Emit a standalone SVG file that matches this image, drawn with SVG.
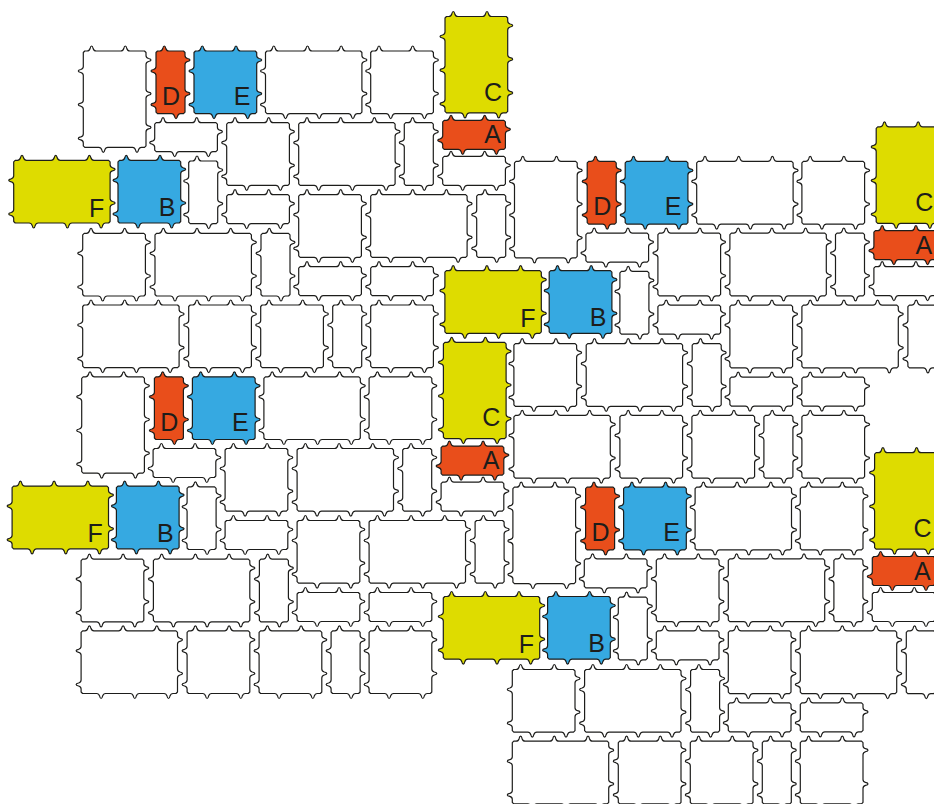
<svg xmlns="http://www.w3.org/2000/svg" width="934" height="804" viewBox="0 0 934 804">
<style>
.p{stroke:#1d1d1b;stroke-width:1.2;stroke-linejoin:round}
.w{fill:#fff}.r{fill:#e94e1b}.b{fill:#36a9e1}.y{fill:#dedc00}
text{font-family:"Liberation Sans",Arial,sans-serif;font-size:25px;fill:#1d1d1b;text-anchor:middle}
</style>
<defs>
<path id="s2963" d="M1.5 0H3.8q2.2 0 3 -2.5q.5 -2.5 1.5 -2.5q1 0 1.5 2.5q.8 2.5 3 2.5H27.5l1.5 1.5V4.5q0 2.2 2.5 3q2.5 .5 2.5 1.5q0 1 -2.5 1.5q-2.5 .8 -2.5 3V38.2q0 2.2 2.5 3q2.5 .5 2.5 1.5q0 1 -2.5 1.5q-2.5 .8 -2.5 3V61.2l-1.5 1.5H24.5q-2.2 0 -3 2.5q-.5 2.5 -1.5 2.5q-1 0 -1.5 -2.5q-.8 -2.5 -3 -2.5H1.5l-1.5 -1.5V58.2q0 -2.2 -2.5 -3q-2.5 -.5 -2.5 -1.5q0 -1 2.5 -1.5q2.5 -.8 2.5 -3V24.5q0 -2.2 -2.5 -3q-2.5 -.5 -2.5 -1.5q0 -1 2.5 -1.5q2.5 -.8 2.5 -3V1.5z"/>
<path id="s6329" d="M1.5 0H3.8q2.2 0 3 -2.5q.5 -2.5 1.5 -2.5q1 0 1.5 2.5q.8 2.5 3 2.5H37.5q2.2 0 3 -2.5q.5 -2.5 1.5 -2.5q1 0 1.5 2.5q.8 2.5 3 2.5H61.2l1.5 1.5V4.5q0 2.2 2.5 3q2.5 .5 2.5 1.5q0 1 -2.5 1.5q-2.5 .8 -2.5 3V27.5l-1.5 1.5H58.2q-2.2 0 -3 2.5q-.5 2.5 -1.5 2.5q-1 0 -1.5 -2.5q-.8 -2.5 -3 -2.5H24.5q-2.2 0 -3 2.5q-.5 2.5 -1.5 2.5q-1 0 -1.5 -2.5q-.8 -2.5 -3 -2.5H1.5l-1.5 -1.5V24.5q0 -2.2 -2.5 -3q-2.5 -.5 -2.5 -1.5q0 -1 2.5 -1.5q2.5 -.8 2.5 -3V1.5z"/>
<path id="s6363" d="M1.5 0H3.8q2.2 0 3 -2.5q.5 -2.5 1.5 -2.5q1 0 1.5 2.5q.8 2.5 3 2.5H37.5q2.2 0 3 -2.5q.5 -2.5 1.5 -2.5q1 0 1.5 2.5q.8 2.5 3 2.5H61.2l1.5 1.5V4.5q0 2.2 2.5 3q2.5 .5 2.5 1.5q0 1 -2.5 1.5q-2.5 .8 -2.5 3V38.2q0 2.2 2.5 3q2.5 .5 2.5 1.5q0 1 -2.5 1.5q-2.5 .8 -2.5 3V61.2l-1.5 1.5H58.2q-2.2 0 -3 2.5q-.5 2.5 -1.5 2.5q-1 0 -1.5 -2.5q-.8 -2.5 -3 -2.5H24.5q-2.2 0 -3 2.5q-.5 2.5 -1.5 2.5q-1 0 -1.5 -2.5q-.8 -2.5 -3 -2.5H1.5l-1.5 -1.5V58.2q0 -2.2 -2.5 -3q-2.5 -.5 -2.5 -1.5q0 -1 2.5 -1.5q2.5 -.8 2.5 -3V24.5q0 -2.2 -2.5 -3q-2.5 -.5 -2.5 -1.5q0 -1 2.5 -1.5q2.5 -.8 2.5 -3V1.5z"/>
<path id="s9663" d="M1.5 0H3.8q2.2 0 3 -2.5q.5 -2.5 1.5 -2.5q1 0 1.5 2.5q.8 2.5 3 2.5H37.5q2.2 0 3 -2.5q.5 -2.5 1.5 -2.5q1 0 1.5 2.5q.8 2.5 3 2.5H71.2q2.2 0 3 -2.5q.5 -2.5 1.5 -2.5q1 0 1.5 2.5q.8 2.5 3 2.5H94.9l1.5 1.5V4.5q0 2.2 2.5 3q2.5 .5 2.5 1.5q0 1 -2.5 1.5q-2.5 .8 -2.5 3V38.2q0 2.2 2.5 3q2.5 .5 2.5 1.5q0 1 -2.5 1.5q-2.5 .8 -2.5 3V61.2l-1.5 1.5H91.9q-2.2 0 -3 2.5q-.5 2.5 -1.5 2.5q-1 0 -1.5 -2.5q-.8 -2.5 -3 -2.5H58.2q-2.2 0 -3 2.5q-.5 2.5 -1.5 2.5q-1 0 -1.5 -2.5q-.8 -2.5 -3 -2.5H24.5q-2.2 0 -3 2.5q-.5 2.5 -1.5 2.5q-1 0 -1.5 -2.5q-.8 -2.5 -3 -2.5H1.5l-1.5 -1.5V58.2q0 -2.2 -2.5 -3q-2.5 -.5 -2.5 -1.5q0 -1 2.5 -1.5q2.5 -.8 2.5 -3V24.5q0 -2.2 -2.5 -3q-2.5 -.5 -2.5 -1.5q0 -1 2.5 -1.5q2.5 -.8 2.5 -3V1.5z"/>
<path id="s6396" d="M1.5 0H3.8q2.2 0 3 -2.5q.5 -2.5 1.5 -2.5q1 0 1.5 2.5q.8 2.5 3 2.5H37.5q2.2 0 3 -2.5q.5 -2.5 1.5 -2.5q1 0 1.5 2.5q.8 2.5 3 2.5H61.2l1.5 1.5V4.5q0 2.2 2.5 3q2.5 .5 2.5 1.5q0 1 -2.5 1.5q-2.5 .8 -2.5 3V38.2q0 2.2 2.5 3q2.5 .5 2.5 1.5q0 1 -2.5 1.5q-2.5 .8 -2.5 3V71.9q0 2.2 2.5 3q2.5 .5 2.5 1.5q0 1 -2.5 1.5q-2.5 .8 -2.5 3V94.9l-1.5 1.5H58.2q-2.2 0 -3 2.5q-.5 2.5 -1.5 2.5q-1 0 -1.5 -2.5q-.8 -2.5 -3 -2.5H24.5q-2.2 0 -3 2.5q-.5 2.5 -1.5 2.5q-1 0 -1.5 -2.5q-.8 -2.5 -3 -2.5H1.5l-1.5 -1.5V91.9q0 -2.2 -2.5 -3q-2.5 -.5 -2.5 -1.5q0 -1 2.5 -1.5q2.5 -.8 2.5 -3V58.2q0 -2.2 -2.5 -3q-2.5 -.5 -2.5 -1.5q0 -1 2.5 -1.5q2.5 -.8 2.5 -3V24.5q0 -2.2 -2.5 -3q-2.5 -.5 -2.5 -1.5q0 -1 2.5 -1.5q2.5 -.8 2.5 -3V1.5z"/>
</defs>
<g id="copy-1">
<g id="c1-p1" transform="translate(83.3 51)"><use href="#s6396" class="p w"/></g>
<g id="c1-D" transform="translate(156 51)"><use href="#s2963" class="p r"/><text x="15" y="54">D</text></g>
<g id="c1-E" transform="translate(194 51)"><use href="#s6363" class="p b"/><text x="48" y="54">E</text></g>
<g id="c1-p2" transform="translate(265.5 51)"><use href="#s9663" class="p w"/></g>
<g id="c1-p3" transform="translate(370.7 51)"><use href="#s6363" class="p w"/></g>
<g id="c1-C" transform="translate(445 16.5)"><use href="#s6396" class="p y"/><text x="48" y="84">C</text></g>
<g id="c1-A" transform="translate(442.7 120.3)"><use href="#s6329" class="p r"/><text x="50" y="23">A</text></g>
<g id="c1-p4" transform="translate(154.7 122.7)"><use href="#s6329" class="p w"/></g>
<g id="c1-p5" transform="translate(226.7 122.7)"><use href="#s6363" class="p w"/></g>
<g id="c1-p6" transform="translate(298.7 122.7)"><use href="#s9663" class="p w"/></g>
<g id="c1-p7" transform="translate(404.3 122.7)"><use href="#s2963" class="p w"/></g>
<g id="c1-p8" transform="translate(442.7 156.3)"><use href="#s6329" class="p w"/></g>
<g id="c1-F" transform="translate(13.7 160.3)"><use href="#s9663" class="p y"/><text x="83" y="56.4">F</text></g>
<g id="c1-B" transform="translate(118 160.3)"><use href="#s6363" class="p b"/><text x="49" y="55.7">B</text></g>
<g id="c1-p9" transform="translate(188.7 161)"><use href="#s2963" class="p w"/></g>
<g id="c1-p10" transform="translate(226.7 194.7)"><use href="#s6329" class="p w"/></g>
<g id="c1-p11" transform="translate(298.7 194.7)"><use href="#s6363" class="p w"/></g>
<g id="c1-p12" transform="translate(370.7 194.7)"><use href="#s9663" class="p w"/></g>
<g id="c1-p13" transform="translate(476.7 194.7)"><use href="#s2963" class="p w"/></g>
<g id="c1-p14" transform="translate(82.7 233.3)"><use href="#s6363" class="p w"/></g>
<g id="c1-p15" transform="translate(155 233.3)"><use href="#s9663" class="p w"/></g>
<g id="c1-p16" transform="translate(261 233.3)"><use href="#s2963" class="p w"/></g>
<g id="c1-p17" transform="translate(298.7 266.7)"><use href="#s6329" class="p w"/></g>
<g id="c1-p18" transform="translate(370.7 266.7)"><use href="#s6329" class="p w"/></g>
<g id="c1-p19" transform="translate(82.7 305)"><use href="#s9663" class="p w"/></g>
<g id="c1-p20" transform="translate(188.7 305)"><use href="#s6363" class="p w"/></g>
<g id="c1-p21" transform="translate(260.7 305)"><use href="#s6363" class="p w"/></g>
<g id="c1-p22" transform="translate(332.7 305)"><use href="#s2963" class="p w"/></g>
<g id="c1-p23" transform="translate(370.7 305)"><use href="#s6363" class="p w"/></g>
</g>
<g id="copy-2" transform="translate(431.2 110.4)">
<g id="c2-p1" transform="translate(83.3 51)"><use href="#s6396" class="p w"/></g>
<g id="c2-D" transform="translate(156 51)"><use href="#s2963" class="p r"/><text x="15" y="54">D</text></g>
<g id="c2-E" transform="translate(194 51)"><use href="#s6363" class="p b"/><text x="48" y="54">E</text></g>
<g id="c2-p2" transform="translate(265.5 51)"><use href="#s9663" class="p w"/></g>
<g id="c2-p3" transform="translate(370.7 51)"><use href="#s6363" class="p w"/></g>
<g id="c2-C" transform="translate(445 16.5)"><use href="#s6396" class="p y"/><text x="48" y="84">C</text></g>
<g id="c2-A" transform="translate(442.7 120.3)"><use href="#s6329" class="p r"/><text x="50" y="23">A</text></g>
<g id="c2-p4" transform="translate(154.7 122.7)"><use href="#s6329" class="p w"/></g>
<g id="c2-p5" transform="translate(226.7 122.7)"><use href="#s6363" class="p w"/></g>
<g id="c2-p6" transform="translate(298.7 122.7)"><use href="#s9663" class="p w"/></g>
<g id="c2-p7" transform="translate(404.3 122.7)"><use href="#s2963" class="p w"/></g>
<g id="c2-p8" transform="translate(442.7 156.3)"><use href="#s6329" class="p w"/></g>
<g id="c2-F" transform="translate(13.7 160.3)"><use href="#s9663" class="p y"/><text x="83" y="56.4">F</text></g>
<g id="c2-B" transform="translate(118 160.3)"><use href="#s6363" class="p b"/><text x="49" y="55.7">B</text></g>
<g id="c2-p9" transform="translate(188.7 161)"><use href="#s2963" class="p w"/></g>
<g id="c2-p10" transform="translate(226.7 194.7)"><use href="#s6329" class="p w"/></g>
<g id="c2-p11" transform="translate(298.7 194.7)"><use href="#s6363" class="p w"/></g>
<g id="c2-p12" transform="translate(370.7 194.7)"><use href="#s9663" class="p w"/></g>
<g id="c2-p13" transform="translate(476.7 194.7)"><use href="#s2963" class="p w"/></g>
<g id="c2-p14" transform="translate(82.7 233.3)"><use href="#s6363" class="p w"/></g>
<g id="c2-p15" transform="translate(155 233.3)"><use href="#s9663" class="p w"/></g>
<g id="c2-p16" transform="translate(261 233.3)"><use href="#s2963" class="p w"/></g>
<g id="c2-p17" transform="translate(298.7 266.7)"><use href="#s6329" class="p w"/></g>
<g id="c2-p18" transform="translate(370.7 266.7)"><use href="#s6329" class="p w"/></g>
<g id="c2-p19" transform="translate(82.7 305)"><use href="#s9663" class="p w"/></g>
<g id="c2-p20" transform="translate(188.7 305)"><use href="#s6363" class="p w"/></g>
<g id="c2-p21" transform="translate(260.7 305)"><use href="#s6363" class="p w"/></g>
<g id="c2-p22" transform="translate(332.7 305)"><use href="#s2963" class="p w"/></g>
<g id="c2-p23" transform="translate(370.7 305)"><use href="#s6363" class="p w"/></g>
</g>
<g id="copy-3" transform="translate(-1.6 325.8)">
<g id="c3-p1" transform="translate(83.3 51)"><use href="#s6396" class="p w"/></g>
<g id="c3-D" transform="translate(156 51)"><use href="#s2963" class="p r"/><text x="15" y="54">D</text></g>
<g id="c3-E" transform="translate(194 51)"><use href="#s6363" class="p b"/><text x="48" y="54">E</text></g>
<g id="c3-p2" transform="translate(265.5 51)"><use href="#s9663" class="p w"/></g>
<g id="c3-p3" transform="translate(370.7 51)"><use href="#s6363" class="p w"/></g>
<g id="c3-C" transform="translate(445 16.5)"><use href="#s6396" class="p y"/><text x="48" y="84">C</text></g>
<g id="c3-A" transform="translate(442.7 120.3)"><use href="#s6329" class="p r"/><text x="50" y="23">A</text></g>
<g id="c3-p4" transform="translate(154.7 122.7)"><use href="#s6329" class="p w"/></g>
<g id="c3-p5" transform="translate(226.7 122.7)"><use href="#s6363" class="p w"/></g>
<g id="c3-p6" transform="translate(298.7 122.7)"><use href="#s9663" class="p w"/></g>
<g id="c3-p7" transform="translate(404.3 122.7)"><use href="#s2963" class="p w"/></g>
<g id="c3-p8" transform="translate(442.7 156.3)"><use href="#s6329" class="p w"/></g>
<g id="c3-F" transform="translate(13.7 160.3)"><use href="#s9663" class="p y"/><text x="83" y="56.4">F</text></g>
<g id="c3-B" transform="translate(118 160.3)"><use href="#s6363" class="p b"/><text x="49" y="55.7">B</text></g>
<g id="c3-p9" transform="translate(188.7 161)"><use href="#s2963" class="p w"/></g>
<g id="c3-p10" transform="translate(226.7 194.7)"><use href="#s6329" class="p w"/></g>
<g id="c3-p11" transform="translate(298.7 194.7)"><use href="#s6363" class="p w"/></g>
<g id="c3-p12" transform="translate(370.7 194.7)"><use href="#s9663" class="p w"/></g>
<g id="c3-p13" transform="translate(476.7 194.7)"><use href="#s2963" class="p w"/></g>
<g id="c3-p14" transform="translate(82.7 233.3)"><use href="#s6363" class="p w"/></g>
<g id="c3-p15" transform="translate(155 233.3)"><use href="#s9663" class="p w"/></g>
<g id="c3-p16" transform="translate(261 233.3)"><use href="#s2963" class="p w"/></g>
<g id="c3-p17" transform="translate(298.7 266.7)"><use href="#s6329" class="p w"/></g>
<g id="c3-p18" transform="translate(370.7 266.7)"><use href="#s6329" class="p w"/></g>
<g id="c3-p19" transform="translate(82.7 305)"><use href="#s9663" class="p w"/></g>
<g id="c3-p20" transform="translate(188.7 305)"><use href="#s6363" class="p w"/></g>
<g id="c3-p21" transform="translate(260.7 305)"><use href="#s6363" class="p w"/></g>
<g id="c3-p22" transform="translate(332.7 305)"><use href="#s2963" class="p w"/></g>
<g id="c3-p23" transform="translate(370.7 305)"><use href="#s6363" class="p w"/></g>
</g>
<g id="copy-4" transform="translate(429.6 436.2)">
<g id="c4-p1" transform="translate(83.3 51)"><use href="#s6396" class="p w"/></g>
<g id="c4-D" transform="translate(156 51)"><use href="#s2963" class="p r"/><text x="15" y="54">D</text></g>
<g id="c4-E" transform="translate(194 51)"><use href="#s6363" class="p b"/><text x="48" y="54">E</text></g>
<g id="c4-p2" transform="translate(265.5 51)"><use href="#s9663" class="p w"/></g>
<g id="c4-p3" transform="translate(370.7 51)"><use href="#s6363" class="p w"/></g>
<g id="c4-C" transform="translate(445 16.5)"><use href="#s6396" class="p y"/><text x="48" y="84">C</text></g>
<g id="c4-A" transform="translate(442.7 120.3)"><use href="#s6329" class="p r"/><text x="50" y="23">A</text></g>
<g id="c4-p4" transform="translate(154.7 122.7)"><use href="#s6329" class="p w"/></g>
<g id="c4-p5" transform="translate(226.7 122.7)"><use href="#s6363" class="p w"/></g>
<g id="c4-p6" transform="translate(298.7 122.7)"><use href="#s9663" class="p w"/></g>
<g id="c4-p7" transform="translate(404.3 122.7)"><use href="#s2963" class="p w"/></g>
<g id="c4-p8" transform="translate(442.7 156.3)"><use href="#s6329" class="p w"/></g>
<g id="c4-F" transform="translate(13.7 160.3)"><use href="#s9663" class="p y"/><text x="83" y="56.4">F</text></g>
<g id="c4-B" transform="translate(118 160.3)"><use href="#s6363" class="p b"/><text x="49" y="55.7">B</text></g>
<g id="c4-p9" transform="translate(188.7 161)"><use href="#s2963" class="p w"/></g>
<g id="c4-p10" transform="translate(226.7 194.7)"><use href="#s6329" class="p w"/></g>
<g id="c4-p11" transform="translate(298.7 194.7)"><use href="#s6363" class="p w"/></g>
<g id="c4-p12" transform="translate(370.7 194.7)"><use href="#s9663" class="p w"/></g>
<g id="c4-p13" transform="translate(476.7 194.7)"><use href="#s2963" class="p w"/></g>
<g id="c4-p14" transform="translate(82.7 233.3)"><use href="#s6363" class="p w"/></g>
<g id="c4-p15" transform="translate(155 233.3)"><use href="#s9663" class="p w"/></g>
<g id="c4-p16" transform="translate(261 233.3)"><use href="#s2963" class="p w"/></g>
<g id="c4-p17" transform="translate(298.7 266.7)"><use href="#s6329" class="p w"/></g>
<g id="c4-p18" transform="translate(370.7 266.7)"><use href="#s6329" class="p w"/></g>
<g id="c4-p19" transform="translate(82.7 305)"><use href="#s9663" class="p w"/></g>
<g id="c4-p20" transform="translate(188.7 305)"><use href="#s6363" class="p w"/></g>
<g id="c4-p21" transform="translate(260.7 305)"><use href="#s6363" class="p w"/></g>
<g id="c4-p22" transform="translate(332.7 305)"><use href="#s2963" class="p w"/></g>
<g id="c4-p23" transform="translate(370.7 305)"><use href="#s6363" class="p w"/></g>
</g>
</svg>
